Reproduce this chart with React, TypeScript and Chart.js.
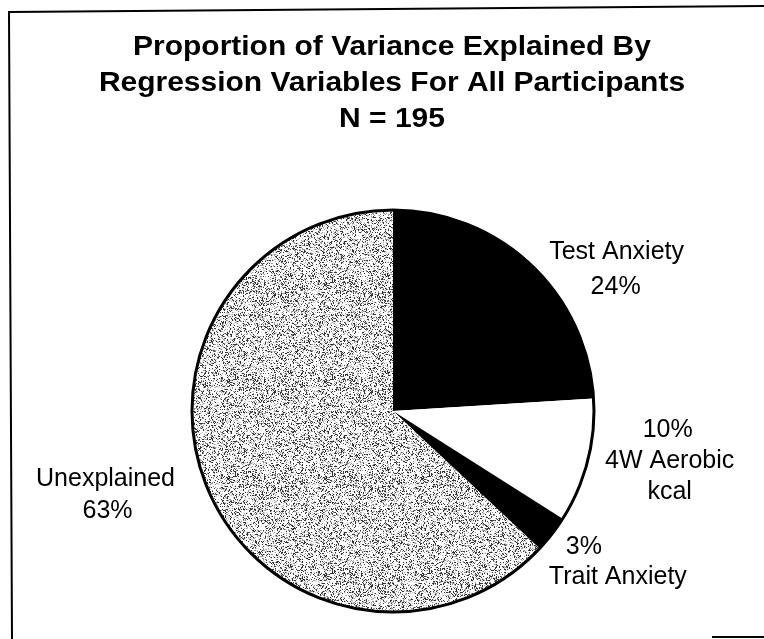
import React, { useEffect, useRef } from "react";
import { Chart, registerables } from "chart.js";

Chart.register(...registerables);

const titleLines = [
  "Proportion of Variance Explained By",
  "Regression Variables For All Participants",
  "N = 195",
];
const categories = ["Test Anxiety", "4W Aerobic kcal", "Trait Anxiety", "Unexplained"];
const values = [24, 10, 3, 63];
const labelLines = [
  ["Test Anxiety", "24%"],
  ["10%", "4W Aerobic", "kcal"],
  ["3%", "Trait Anxiety"],
  ["Unexplained", "63%"],
];

// label layout: offset of label block center from the slice's rim mid-point,
// line spacing and per-line horizontal shifts
const labelOffsets = [
  [86, 5],
  [82, 0],
  [49, 28],
  [-102, 4],
];
const labelLineHeights = [35, 31, 30, 32];
const labelLineShifts = [
  [0, -1],
  [-2, 0, 0],
  [-17, 17],
  [-1, 1],
];

function makeStipple(): CanvasPattern | string {
  const n = 97;
  const c = document.createElement("canvas");
  c.width = n;
  c.height = n;
  const ctx = c.getContext("2d");
  if (!ctx) return "#c4c4c4";
  const img = ctx.createImageData(n, n);
  for (let y = 0; y < n; y++) {
    for (let x = 0; x < n; x++) {
      let h = (x * 374761393 + y * 668265263) | 0;
      h = Math.imul(h ^ (h >>> 13), 1274126177);
      h = h ^ (h >>> 16);
      const r = (h >>> 0) % 1000;
      let v = 255;
      if (r < 170) v = 50;
      else if (r < 290) v = 150;
      else if (r < 380) v = 210;
      const i = (y * n + x) * 4;
      img.data[i] = v;
      img.data[i + 1] = v;
      img.data[i + 2] = v;
      img.data[i + 3] = 255;
    }
  }
  ctx.putImageData(img, 0, 0);
  const p = ctx.createPattern(c, "repeat");
  return p || "#c4c4c4";
}

export default function App() {
  const ref = useRef<HTMLCanvasElement>(null);
  useEffect(() => {
    document.body.style.margin = "0";
    const canvas = ref.current;
    if (!canvas) return;
    const stipple = makeStipple();

    const decor = {
      id: "decor",
      beforeDraw(chart: any) {
        const ctx = chart.ctx;
        const w = chart.width;
        const h = chart.height;
        ctx.save();
        ctx.fillStyle = "#ffffff";
        ctx.fillRect(0, 0, w, h);
        ctx.strokeStyle = "#000";
        ctx.lineWidth = 2;
        ctx.beginPath();
        ctx.moveTo(12, h);
        ctx.lineTo(9, 12);
        ctx.lineTo(w, 6);
        ctx.stroke();
        ctx.beginPath();
        ctx.moveTo(712, h - 2);
        ctx.lineTo(w, h - 2);
        ctx.stroke();
        // title
        ctx.fillStyle = "#000";
        ctx.font = "bold 28px 'Liberation Sans', Arial, sans-serif";
        ctx.textAlign = "center";
        ctx.textBaseline = "middle";
        titleLines.forEach((t, i) => {
          ctx.save();
          ctx.translate(392, 47 + i * 36);
          ctx.scale(1.07, 1);
          ctx.fillText(t, 0, 0);
          ctx.restore();
        });
        ctx.restore();
      },
      afterDatasetsDraw(chart: any) {
        const ctx = chart.ctx;
        const meta = chart.getDatasetMeta(0);
        const a0 = meta.data[0];
        ctx.save();
        ctx.strokeStyle = "#000";
        ctx.lineWidth = 3;
        ctx.beginPath();
        ctx.arc(a0.x, a0.y, a0.outerRadius, 0, Math.PI * 2);
        ctx.stroke();
        ctx.fillStyle = "#000";
        ctx.font = "25px 'Liberation Sans', Arial, sans-serif";
        ctx.textAlign = "center";
        ctx.textBaseline = "middle";
        meta.data.forEach((arc: any, i: number) => {
          const mid = (arc.startAngle + arc.endAngle) / 2;
          const ax = arc.x + Math.cos(mid) * arc.outerRadius;
          const ay = arc.y + Math.sin(mid) * arc.outerRadius;
          const cx = ax + labelOffsets[i][0];
          const cy = ay + labelOffsets[i][1];
          const lines = labelLines[i];
          const n = lines.length;
          lines.forEach((t, j) => {
            ctx.fillText(
              t,
              cx + labelLineShifts[i][j],
              cy + (j - (n - 1) / 2) * labelLineHeights[i]
            );
          });
        });
        ctx.restore();
      },
    };

    const chart = new Chart(canvas, {
      type: "pie",
      data: {
        labels: categories,
        datasets: [
          {
            data: values,
            backgroundColor: ["#000000", "#ffffff", "#000000", stipple as any],
            borderWidth: 0,
          },
        ],
      },
      options: {
        responsive: false,
        animation: false,
        devicePixelRatio: 1,
        radius: 201,
        layout: { padding: { left: 190, right: 168, top: 210, bottom: 27 } },
        plugins: {
          legend: { display: false },
          tooltip: { enabled: false },
          title: { display: false },
        },
      } as any,
      plugins: [decor],
    });
    return () => chart.destroy();
  }, []);
  return <canvas ref={ref} width={764} height={639} style={{ display: "block" }} />;
}
